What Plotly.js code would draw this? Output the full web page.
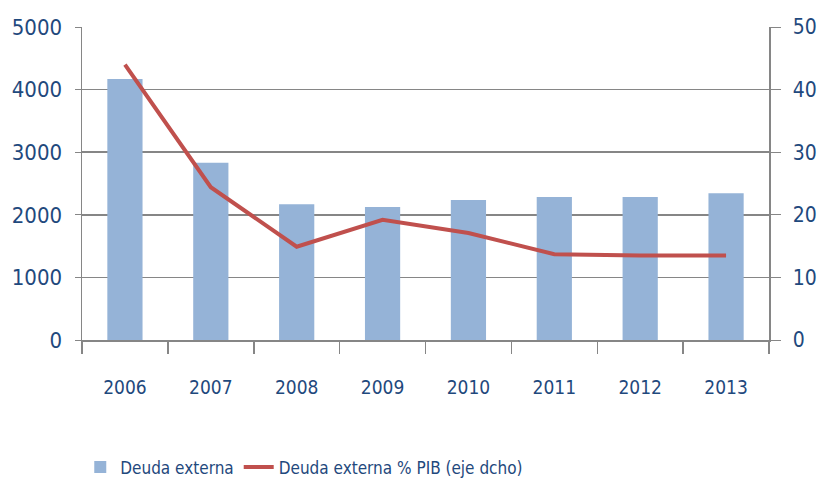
<!DOCTYPE html>
<html>
<head>
<meta charset="utf-8">
<script src="https://cdn.plot.ly/plotly-3.0.1.min.js"></script>
<style>html,body{margin:0;padding:0;background:#fff;}#chart{width:819px;height:479px;}</style>
</head>
<body>
<div id="chart"></div>
<script>
const years = ['2006','2007','2008','2009','2010','2011','2012','2013'];
const deudaExterna = [4170, 2830, 2170, 2125, 2235, 2285, 2285, 2345];
const deudaPIB = [44.0, 24.4, 14.9, 19.2, 17.1, 13.7, 13.5, 13.5];
const leftTicks = [0, 1000, 2000, 3000, 4000, 5000];
const rightTicks = [0, 10, 20, 30, 40, 50];

const labelColor = '#1F497D';
const gridColor = '#868686';
const fontFam = '"DejaVu Sans Condensed", "Liberation Sans Narrow", sans-serif';

const traces = [
  {
    type: 'bar', x: years, y: deudaExterna, name: 'Deuda externa',
    marker: {color: '#95B3D7'}, width: 0.41, yaxis: 'y'
  },
  {
    type: 'scatter', mode: 'lines', x: years, y: deudaPIB,
    name: 'Deuda externa % PIB (eje dcho)',
    line: {color: '#C0504D', width: 4}, yaxis: 'y2'
  }
];

const layout = {
  width: 819, height: 479,
  margin: {l: 82, r: 50, t: 27, b: 139},
  paper_bgcolor: '#fff', plot_bgcolor: '#fff',
  font: {family: fontFam, color: labelColor, size: 20},
  showlegend: true,
  legend: {
    orientation: 'h', xref: 'container', yref: 'container',
    x: 0.098, xanchor: 'left', y: 0.024, yanchor: 'middle',
    font: {family: fontFam, size: 17, color: labelColor},
    itemwidth: 30, tracegroupgap: 0, traceorder: 'normal'
  },
  xaxis: {
    type: 'category', tickvals: years, ticktext: years, automargin: false,
    showgrid: false, showline: true, linecolor: gridColor, linewidth: 2,
    ticks: 'outside', tickson: 'boundaries', ticklen: 12, tickcolor: gridColor, tickwidth: 1.5,
    ticklabelstandoff: 29,
    tickfont: {family: fontFam, size: 19, color: labelColor},
    range: [-0.5, 7.5], zeroline: false
  },
  yaxis: {
    range: [0, 5000], tickvals: leftTicks, automargin: false,
    showgrid: true, gridcolor: gridColor, gridwidth: 1.5,
    showline: true, linecolor: gridColor, linewidth: 1.5,
    ticks: 'outside', ticklen: 6, tickcolor: gridColor,
    ticklabelstandoff: 8,
    tickfont: {family: fontFam, size: 22, color: labelColor},
    zeroline: false
  },
  yaxis2: {
    range: [0, 50], tickvals: rightTicks, overlaying: 'y', side: 'right', automargin: false,
    showgrid: false, showline: true, linecolor: gridColor, linewidth: 1.5,
    ticks: 'outside', ticklen: 10, tickcolor: gridColor,
    ticklabelstandoff: 8,
    tickfont: {family: fontFam, size: 21, color: labelColor},
    zeroline: false
  }
};

Plotly.newPlot('chart', traces, layout, {displayModeBar: false, staticPlot: true});
</script>
</body>
</html>
